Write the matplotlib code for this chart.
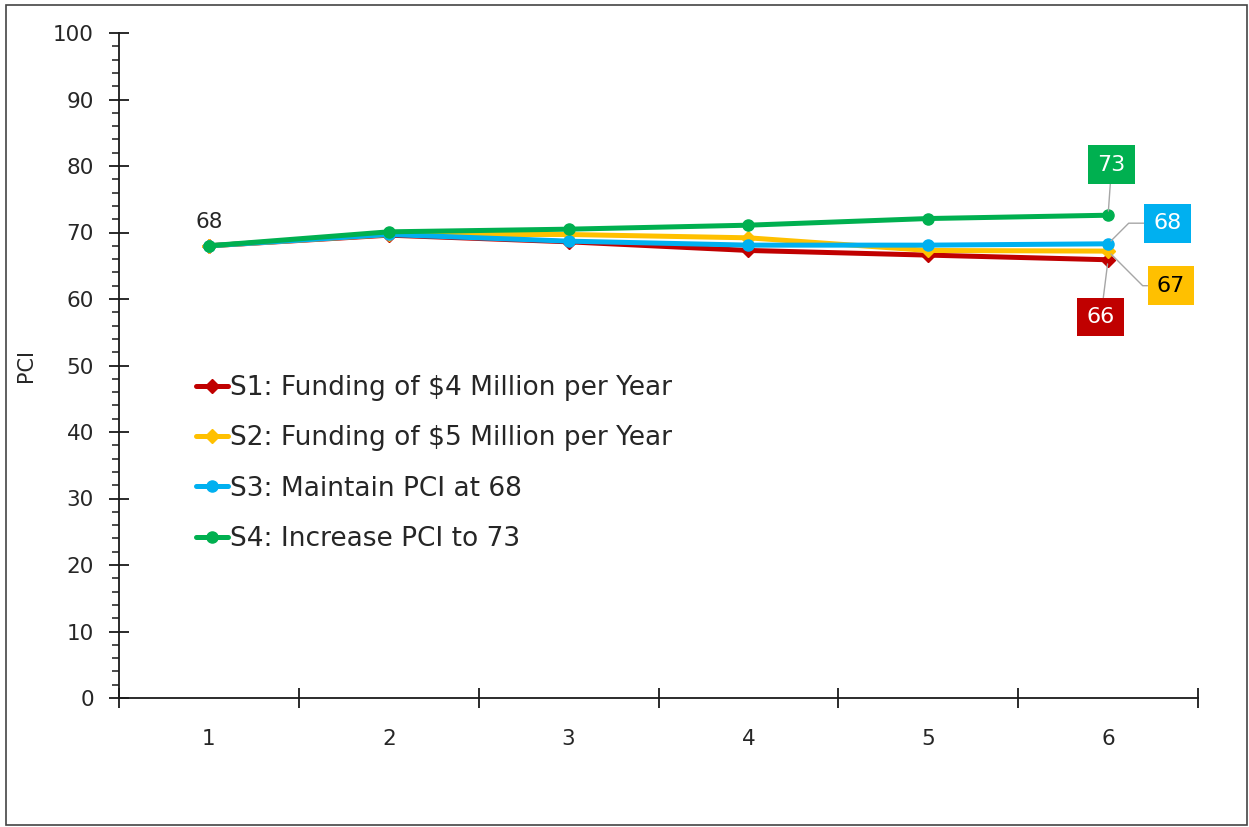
import matplotlib
matplotlib.use("Agg")
import matplotlib.pyplot as plt
from matplotlib.patches import Rectangle

plt.rcParams['font.family'] = ['DejaVu Sans']

years = [1, 2, 3, 4, 5, 6]
s1 = [68.0, 69.6, 68.6, 67.3, 66.6, 65.9]
s2 = [68.0, 69.7, 69.7, 69.2, 67.3, 67.2]
s3 = [68.0, 69.7, 68.7, 68.1, 68.1, 68.3]
s4 = [68.0, 70.1, 70.5, 71.1, 72.1, 72.6]
labels = ["S1: Funding of $4 Million per Year",
          "S2: Funding of $5 Million per Year",
          "S3: Maintain PCI at 68",
          "S4: Increase PCI to 73"]
colors = ["#c00000", "#ffc000", "#00b0f0", "#00b050"]
markers = ["D", "D", "o", "o"]
end_labels = ["66", "67", "68", "73"]
end_text_colors = ["white", "black", "white", "white"]
start_label = "68"
yticks = [0, 10, 20, 30, 40, 50, 60, 70, 80, 90, 100]

fig = plt.figure(figsize=(12.49, 8.27), dpi=100)
ax = fig.add_axes([119/1249, 1-698/827, (1198-119)/1249, (698-33)/827])

series = [s1, s2, s3, s4]
for vals, lab, c, m in zip(series, labels, colors, markers):
    ax.plot(years, vals, color=c, lw=3.6, marker=m,
            ms=7 if m == "D" else 8, label=lab, solid_capstyle='round')

ax.set_xlim(0.5, 6.5)
ax.set_ylim(0, 100)
for s in ['top', 'right']:
    ax.spines[s].set_visible(False)
for s in ['left', 'bottom']:
    ax.spines[s].set_linewidth(1.3)
    ax.spines[s].set_color('#1a1a1a')

tc = '#262626'
ax.set_yticks(yticks)
ax.set_yticks(range(0, 101, 2), minor=True)
ax.tick_params(axis='y', which='major', direction='inout', length=14, width=1.3,
               labelsize=15.5, pad=11, colors='#1a1a1a', labelcolor=tc)
ax.tick_params(axis='y', which='minor', direction='out', length=5, width=1.1,
               colors='#1a1a1a')
# x: ticks between categories, labels at categories
ax.set_xticks([0.5, 1.5, 2.5, 3.5, 4.5, 5.5, 6.5])
ax.set_xticklabels([])
ax.set_xticks(years, minor=True)
ax.set_xticklabels([str(y) for y in years], minor=True)
ax.tick_params(axis='x', which='major', direction='inout', length=14, width=1.3,
               colors='#1a1a1a')
ax.tick_params(axis='x', which='minor', length=0, labelsize=15.5, pad=22,
               labelcolor=tc)
ax.set_ylabel("PCI", fontsize=15, color=tc, labelpad=12)

# start label
ax.annotate(start_label, (years[0], s1[0]), xytext=(0, 10), textcoords='offset points',
            ha='center', va='bottom', fontsize=15.5, color=tc)

# end labels (box centers in data coords)
box_pos = [(5.96, 57.3), (6.35, 62.0), (6.33, 71.4), (6.02, 80.2)]
conns = ["arc3", "angle,angleA=0,angleB=-45,rad=0",
         "angle,angleA=0,angleB=45,rad=0", "arc3"]
for vals, c, txt, tcol, bp, cs in zip(series, colors, end_labels, end_text_colors,
                                      box_pos, conns):
    ax.annotate(txt, (years[-1], vals[-1]), xytext=bp, textcoords='data',
                ha='center', va='center', fontsize=16, color=tcol,
                bbox=dict(boxstyle='square,pad=0.42', fc=c, ec='none'),
                arrowprops=dict(arrowstyle='-', color='#a6a6a6', lw=1,
                                connectionstyle=cs, shrinkA=0, shrinkB=3),
                zorder=5)

leg = ax.legend(loc='upper left', bbox_to_anchor=(196/1249, 1-375/827),
                bbox_transform=fig.transFigure, frameon=False, fontsize=19,
                handlelength=1.2, handletextpad=0.08, labelspacing=0.92,
                borderpad=0, borderaxespad=0)
for t in leg.get_texts():
    t.set_color(tc)
for h in leg.legend_handles:
    h.set_linewidth(3.6)

fig.patches.append(Rectangle((6/1249, 2/827), 1241/1249, 820/827, transform=fig.transFigure,
                             fill=False, ec='#444444', lw=1.2))

fig.savefig("out.png", dpi=100)
